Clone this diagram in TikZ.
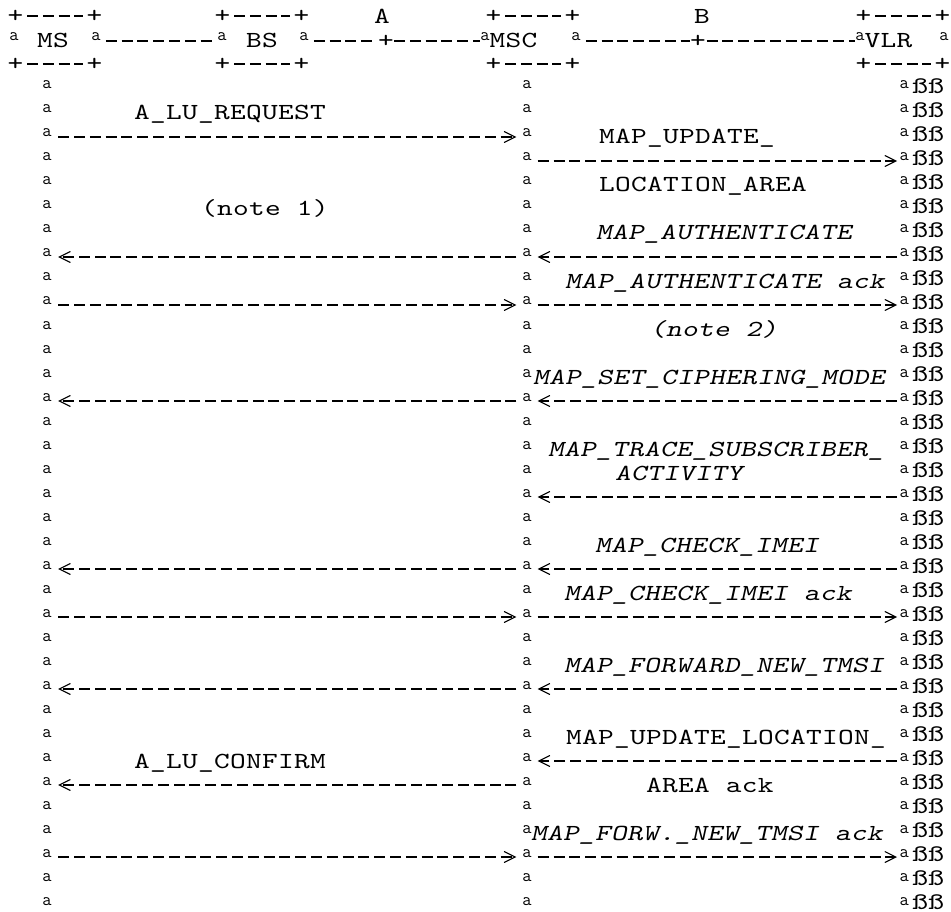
\documentclass[tikz,border=0pt]{standalone}
\usepackage{fontspec}
\usepackage{graphicx}
\usetikzlibrary{arrows.meta}
\newfontfamily\asc{lmmono10-regular}[Extension=.otf, ItalicFont=lmmonoslant10-regular, FakeStretch=1.3, LetterSpace=1.3]
\newcommand\ascfont{\fontsize{23}{24}\selectfont\asc}
\newcommand\lifefont{\fontsize{18}{18}\selectfont\ttfamily}
\newcommand\szfont{\fontsize{24}{24}\selectfont\ttfamily}

\begin{document}
\begin{tikzpicture}[x=1pt, y=-1pt,
    txt/.style={font=\ascfont, inner sep=0pt, anchor=base west},
    itx/.style={font=\ascfont\itshape, inner sep=0pt, anchor=base west},
    plus/.style={font=\ascfont, inner sep=0pt},
    side/.style={font=\lifefont, inner sep=0pt, anchor=base, minimum width=8pt},
    life/.style={font=\lifefont, inner sep=0pt, anchor=base, minimum width=#1},
    hdr/.style={line width=1.1pt, dash pattern=on 11pt off 4.8pt},
    msg/.style={hdr, -{Straight Barb[length=11pt, width=11pt]}},
]
    \useasboundingbox (0,0) rectangle (951,912);

    % entity boxes
    \foreach \nm/\xl in {ms/15.5, bs/222.5, msc/493.5, vlr/863.5} {
        \node[plus] (\nm-tl) at (\xl,16) {+};
        \node[plus] (\nm-tr) at (\xl+79,16) {+};
        \node[plus] (\nm-bl) at (\xl,64) {+};
        \node[plus] (\nm-br) at (\xl+79,64) {+};
        \draw[hdr, shorten <=3.5pt, shorten >=3.5pt] (\nm-tl) -- (\nm-tr);
        \draw[hdr, shorten <=3.5pt, shorten >=3.5pt] (\nm-bl) -- (\nm-br);
    }
    \node[side] (ms-l) at (14,41) {a};
    \node[side] (ms-r) at (96,41) {a};
    \node[side] (bs-l) at (222,41) {a};
    \node[side] (bs-r) at (304,41) {a};
    \node[side] (msc-l) at (485,41) {a};
    \node[side] (msc-r) at (576,41) {a};
    \node[side] (vlr-l) at (860,41) {a};
    \node[side] (vlr-r) at (944,41) {a};
    \node[txt] (ms) at (37,48) {MS};
    \node[txt] (bs) at (246,48) {BS};
    \node[txt] (msc) at (489.5,48) {MSC};
    \node[txt] (vlr) at (864.5,48) {VLR};

    % interfaces A and B
    \node[txt] (ia) at (374,24) {A};
    \node[txt] (ib) at (694,24) {B};
    \node[plus] (ifa) at (386,41) {+};
    \node[plus] (ifb) at (698,41) {+};
    \draw[hdr, shorten <=5pt, shorten >=1pt] (ms-r.base east) -- (bs-l.base west);
    \draw[hdr, shorten <=5pt, shorten >=1pt] (bs-r.base east) -- (ifa);
    \draw[hdr] (ifa) -- (msc-l.base west);
    \draw[hdr, shorten <=5pt] (msc-r.base east) -- (ifb);
    \draw[hdr, shorten <=0.5pt] (ifb) -- (vlr-l.base west);

    % lifelines
    \foreach \r in {4,...,38} {
        \node[life=22pt] (ms\r) at (47,24*\r-7) {a};
        \node[life=21pt] (msc\r) at (527,24*\r-7) {a};
        \node[life=14pt, anchor=base west] (vlr\r) at (897,24*\r-7) {a};
        \node[txt, font=\szfont] (sz\r) at (912,24*\r-2.5) {\scalebox{1.28}[1]{ßß}};
    }

    % messages MS - MSC
    \foreach \r in {6,13,26,36}
        \draw[msg] (ms\r.base east) -- (msc\r.base west);
    \foreach \r in {11,17,24,29,33}
        \draw[msg] (msc\r.base west) -- (ms\r.base east);
    % messages MSC - VLR
    \foreach \r in {7,13,26,36}
        \draw[msg] (msc\r.base east) -- (vlr\r.base west);
    \foreach \r in {11,17,21,24,29,32}
        \draw[msg] (vlr\r.base west) -- (msc\r.base east);

    % labels
    \node[txt] (req) at (134,120) {A\_LU\_REQUEST};
    \node[txt] (note1) at (201,216) {(note 1)};
    \node[txt] (conf) at (134,768) {A\_LU\_CONFIRM};
    \node[txt] (upd1) at (599,144) {MAP\_UPDATE\_};
    \node[txt] (upd2) at (599,192) {LOCATION\_AREA};
    \node[itx] (auth) at (596,240) {MAP\_AUTHENTICATE};
    \node[itx] (authack) at (565,288) {MAP\_AUTHENTICATE ack};
    \node[itx] (note2) at (650,336) {(note 2)};
    \node[itx] (ciph) at (533,384) {MAP\_SET\_CIPHERING\_MODE};
    \node[itx] (trace1) at (548,456) {MAP\_TRACE\_SUBSCRIBER\_};
    \node[itx] (trace2) at (615,480) {ACTIVITY};
    \node[itx] (imei) at (595,552) {MAP\_CHECK\_IMEI};
    \node[itx] (imeiack) at (564,600) {MAP\_CHECK\_IMEI ack};
    \node[itx] (tmsi) at (564,672) {MAP\_FORWARD\_NEW\_TMSI};
    \node[txt] (updack1) at (566,744) {MAP\_UPDATE\_LOCATION\_};
    \node[txt] (updack2) at (646,792) {AREA ack};
    \node[itx] (tmsiack) at (531,840) {MAP\_FORW.\_NEW\_TMSI ack};
\end{tikzpicture}
\end{document}
